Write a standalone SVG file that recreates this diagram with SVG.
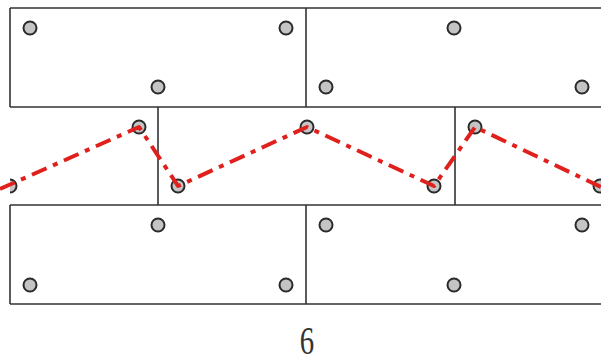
<svg xmlns="http://www.w3.org/2000/svg" width="601" height="363" viewBox="0 0 601 363">
<style>
.b{fill:none;stroke:#333;stroke-width:1.6}
.p{fill:#c4c4c4;stroke:#2a2a2a;stroke-width:2}
.r{fill:none;stroke:#e0201c;stroke-width:4;stroke-dasharray:16 7 5 7;stroke-linecap:butt;stroke-linejoin:round}
.t{font-family:"Liberation Serif",serif;font-size:40px;fill:#333}
</style>
<defs><clipPath id="c"><rect x="10" y="0" width="591" height="363"/></clipPath></defs>
<g id="blocks">
<path class="b" d="M10 8H601M10 107H601M10 205H601M10 304H601M10 8V107M306 8V107M158 107V205M455 107V205M10 205V304M306 205V304"/>
</g>
<g id="points">
<circle class="p" cx="30" cy="28" r="6.5"/>
<circle class="p" cx="286" cy="28" r="6.5"/>
<circle class="p" cx="158" cy="87" r="6.5"/>
<circle class="p" cx="454" cy="28" r="6.5"/>
<circle class="p" cx="326" cy="87" r="6.5"/>
<circle class="p" cx="582" cy="87" r="6.5"/>
<circle class="p" cx="139" cy="127" r="6.5"/>
<circle class="p" cx="307" cy="127" r="6.5"/>
<circle class="p" cx="475" cy="127" r="6.5"/>
<circle class="p" cx="10" cy="186" r="6.5" clip-path="url(#c)"/>
<circle class="p" cx="178" cy="186" r="6.5"/>
<circle class="p" cx="434" cy="186" r="6.5"/>
<circle class="p" cx="600" cy="186" r="6.5"/>
<circle class="p" cx="158" cy="225" r="6.5"/>
<circle class="p" cx="326" cy="225" r="6.5"/>
<circle class="p" cx="582" cy="225" r="6.5"/>
<circle class="p" cx="30" cy="285" r="6.5"/>
<circle class="p" cx="286" cy="285" r="6.5"/>
<circle class="p" cx="454" cy="285" r="6.5"/>
</g>
<g id="connectors">
<polyline class="r" points="0,189 139,127 178,186 307,127 434,186 475,127 601,187"/>
</g>
<text class="t" x="0" y="354" text-anchor="middle" transform="translate(307,0) scale(0.72,1)">6</text>
</svg>
